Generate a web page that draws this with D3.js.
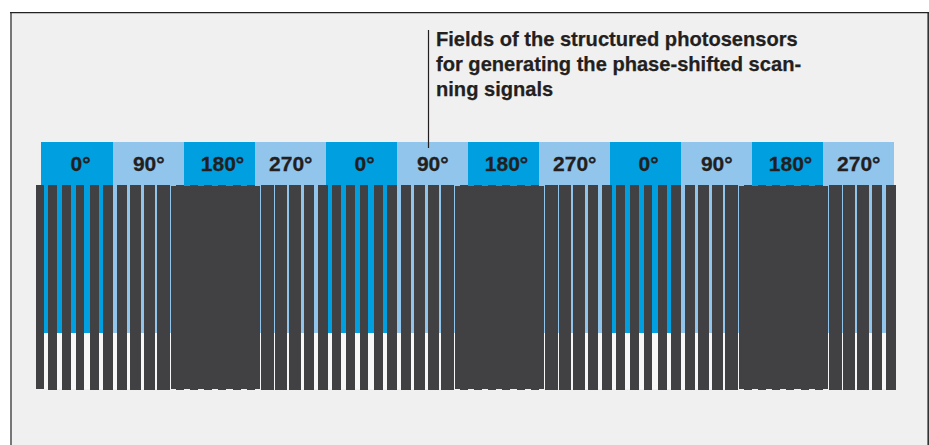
<!DOCTYPE html>
<html><head><meta charset="utf-8">
<script src="https://cdnjs.cloudflare.com/ajax/libs/d3/7.8.5/d3.min.js"></script>
<style>html,body{margin:0;padding:0;background:#fff}svg{display:block}</style>
</head><body><div id="c"></div>
<script>
const phaseLabels = ["0°","90°","180°","270°","0°","90°","180°","270°","0°","90°","180°","270°"];
const annotation = ["Fields of the structured photosensors","for generating the phase-shifted scan-","ning signals"];
// Grating bars: start and end along the scale
const barStart = [0,12,26,40,54,67,81,94,108,121,135,225,239,253,268,282,296,310,324,338,351,365,378,392,405,419,509,523,537,552,566,580,594,608,622,635,649,662,676,689,703,793,807,821,836,850];
const barEnd   = [8,21,35,48,63,77,91,105,119,134,224,238,251,265,278,292,305,319,332,347,361,375,389,403,418,508,522,535,549,562,576,589,603,616,631,645,659,673,687,702,792,806,819,833,846,860];
// Small teeth of the grating on the merged blocks
const toothStart = [140,154,168,182,197,211,424,438,452,466,481,495,708,722,736,750,765,779];
const toothEnd   = [148,162,176,190,205,219,432,446,460,474,489,503,716,730,744,758,773,787];

const W=929,H=445;
const fieldColors=["#009fdf","#92c5eb"], barColor="#414042", inkColor="#231f20";
const svg=d3.select("#c").append("svg").attr("width",W).attr("height",H);
svg.append("rect").attr("x",10).attr("y",12).attr("width",919).attr("height",H).attr("fill","#f0f0f0");
svg.append("line").attr("x1",11).attr("x2",11).attr("y1",12).attr("y2",H).attr("stroke","#777").attr("stroke-width",2);
svg.append("line").attr("x1",928.2).attr("x2",928.2).attr("y1",12).attr("y2",H).attr("stroke","#333").attr("stroke-width",1.6);
svg.append("line").attr("x1",10).attr("x2",W).attr("y1",12.6).attr("y2",12.6).attr("stroke","#222").attr("stroke-width",1.4);

const band=d3.scaleBand().domain(d3.range(phaseLabels.length)).range([42,894]);
const x=d3.scaleLinear().domain([0,860]).range([36,896]);

svg.append("rect").attr("x",41).attr("y",333).attr("width",853).attr("height",56).attr("fill","#f7f7f7");
svg.selectAll("rect.field").data(phaseLabels).join("rect").attr("class","field")
  .attr("x",(d,i)=>band(i)-(i===0?1:0)).attr("y",142).attr("width",(d,i)=>band.bandwidth()+(i===0?1:0)).attr("height",191)
  .attr("fill",(d,i)=>fieldColors[i%2]);
svg.selectAll("text.ph").data(phaseLabels).join("text").attr("class","ph")
  .attr("x",(d,i)=>band(i)+band.bandwidth()/2+(i%2?0.3:3)).attr("y",171).attr("text-anchor","middle")
  .attr("font-family","Liberation Sans").attr("font-weight","bold").attr("font-size",21)
  .attr("fill",inkColor).attr("stroke",inkColor).attr("stroke-width",0.3).text(d=>d);

const blocks=new Set([135,419,703]);
svg.selectAll("rect.bar").data(barStart).join("rect").attr("class","bar")
  .attr("x",d=>x(d)).attr("width",(d,i)=>x(barEnd[i])-x(d))
  .attr("y",d=>blocks.has(d)?186:185).attr("height",(d,i)=>blocks.has(d)?203:(i===0?204:205))
  .attr("fill",barColor);
svg.selectAll("rect.tooth").data(toothStart).join("rect").attr("class","tooth")
  .attr("x",d=>x(d)).attr("width",(d,i)=>x(toothEnd[i])-x(d))
  .attr("y",185).attr("height",205).attr("fill",barColor);

svg.append("line").attr("x1",428.5).attr("x2",428.5).attr("y1",30).attr("y2",148).attr("stroke",inkColor).attr("stroke-width",1.2);
svg.selectAll("text.an").data(annotation).join("text").attr("class","an")
  .attr("x",436).attr("y",(d,i)=>46+i*25).attr("font-family","Liberation Sans").attr("font-weight","bold")
  .attr("font-size",20.1).attr("fill",inkColor).attr("stroke",inkColor).attr("stroke-width",0.25).text(d=>d);
</script></body></html>
